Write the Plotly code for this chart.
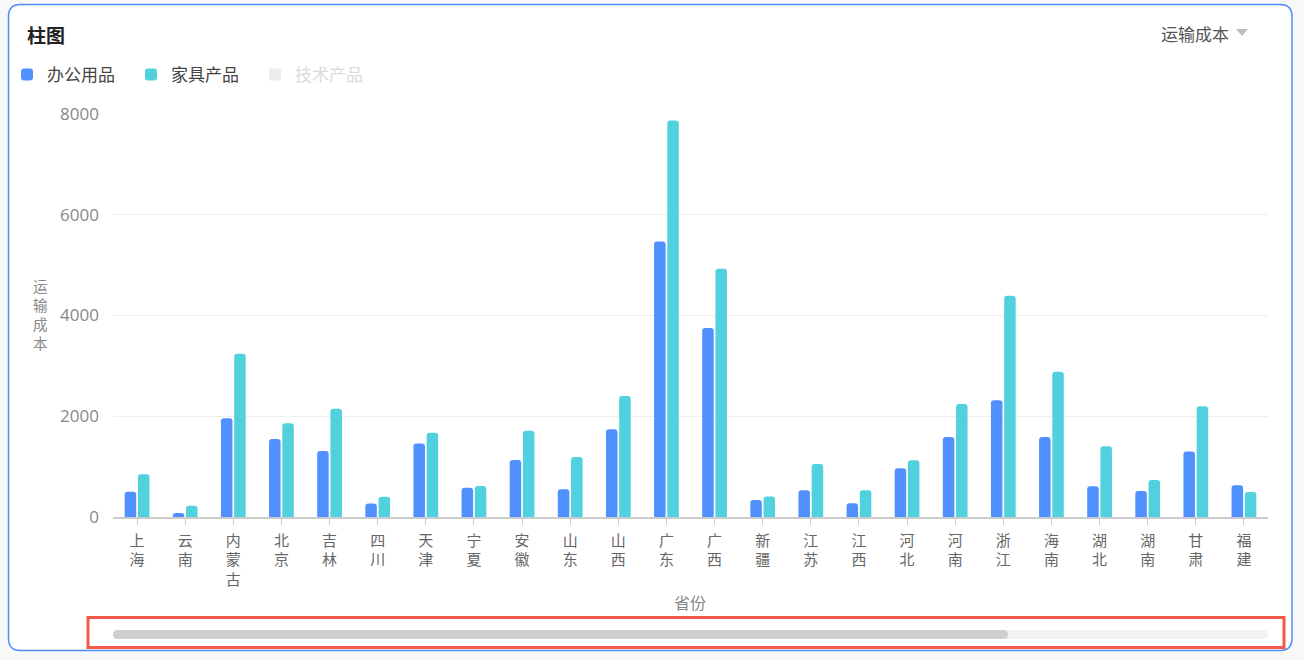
import plotly.graph_objects as go

# Provinces on the category axis and transport cost per product line
provinces = ["上海", "云南", "内蒙古", "北京", "吉林", "四川", "天津", "宁夏", "安徽", "山东",
             "山西", "广东", "广西", "新疆", "江苏", "江西", "河北", "河南", "浙江", "海南",
             "湖北", "湖南", "甘肃", "福建"]
office = [500, 80, 1960, 1550, 1310, 270, 1460, 580, 1130, 550,
          1740, 5470, 3750, 335, 530, 275, 970, 1590, 2320, 1590,
          610, 518, 1300, 630]
furniture = [850, 225, 3240, 1860, 2150, 400, 1670, 615, 1710, 1190,
             2400, 7870, 4930, 405, 1050, 530, 1125, 2245, 4390, 2883,
             1405, 735, 2200, 495]
series_names = ["办公用品", "家具产品", "技术产品"]
y_ticks = [0, 2000, 4000, 6000, 8000]

W, H = 1304, 660
CJK = "Noto Sans CJK SC, Noto Sans, sans-serif"


def px(x):
    return x / W


def py(y):
    return 1 - y / H


def rounded_rect(x0, y0, x1, y1, r):
    """SVG path (paper coords) for a rounded rectangle given in pixels."""
    pts = [
        ("M", (x0 + r, y0)), ("L", (x1 - r, y0)), ("Q", (x1, y0), (x1, y0 + r)),
        ("L", (x1, y1 - r)), ("Q", (x1, y1), (x1 - r, y1)),
        ("L", (x0 + r, y1)), ("Q", (x0, y1), (x0, y1 - r)),
        ("L", (x0, y0 + r)), ("Q", (x0, y0), (x0 + r, y0)),
    ]
    out = []
    for p in pts:
        cmd = p[0]
        coords = " ".join(f"{px(a):.6f},{py(b):.6f}" for a, b in p[1:])
        out.append(f"{cmd}{coords}")
    return " ".join(out) + " Z"


fig = go.Figure()
fig.add_trace(go.Bar(x=provinces, y=office, name=series_names[0],
                     marker=dict(color="#5090FF", cornerradius=3, line=dict(width=0))))
fig.add_trace(go.Bar(x=provinces, y=furniture, name=series_names[1],
                     marker=dict(color="#51D0DE", cornerradius=3, line=dict(width=0))))
fig.add_trace(go.Bar(x=provinces, y=[None] * len(provinces),
                     name='<span style="color:#b8b8b8">' + series_names[2] + "</span>",
                     visible="legendonly",
                     marker=dict(color="#dcdcdc", line=dict(width=0))))

shapes = [
    # card
    dict(type="path", xref="paper", yref="paper", layer="below",
         path=rounded_rect(8.5, 4.5, 1292, 650.5, 12),
         fillcolor="#ffffff", line=dict(color="#4D8DF5", width=1.5)),
    # scrollbar track and thumb
    dict(type="path", xref="paper", yref="paper", layer="above",
         path=rounded_rect(113, 630, 1268, 639, 4.5),
         fillcolor="#f2f2f2", line=dict(width=0)),
    dict(type="path", xref="paper", yref="paper", layer="above",
         path=rounded_rect(113, 630, 1008, 639, 4.5),
         fillcolor="#cfcfcf", line=dict(width=0)),
    # highlight frame around the scrollbar
    dict(type="rect", xref="paper", yref="paper", layer="above",
         x0=px(88), x1=px(1284), y0=py(617.5), y1=py(647.5),
         fillcolor="rgba(0,0,0,0)", line=dict(color="#F45A4A", width=3)),
    # dropdown caret
    dict(type="path", xref="paper", yref="paper", layer="above",
         path=f"M{px(1236)},{py(29)} L{px(1248)},{py(29)} L{px(1242)},{py(36)} Z",
         fillcolor="#bdbdbd", line=dict(width=0)),
]

annotations = [
    dict(text="<b>柱图</b>", x=px(25), y=py(34), xref="paper", yref="paper",
         xanchor="left", yanchor="middle", showarrow=False,
         font=dict(family=CJK, size=19, color="#222222")),
    dict(text="运输成本", x=px(1159), y=py(33), xref="paper", yref="paper",
         xanchor="left", yanchor="middle", showarrow=False,
         font=dict(family=CJK, size=17, color="#555555")),
    dict(text="运<br>输<br>成<br>本", x=px(40), y=py(314), xref="paper", yref="paper",
         xanchor="center", yanchor="middle", showarrow=False,
         font=dict(family=CJK, size=14.5, color="#888888")),
    dict(text="省份", x=px(690), y=py(602), xref="paper", yref="paper",
         xanchor="center", yanchor="middle", showarrow=False,
         font=dict(family=CJK, size=16, color="#888888")),
]

fig.update_layout(
    width=W, height=H, autosize=False,
    margin=dict(l=0, r=0, t=0, b=0, autoexpand=False),
    paper_bgcolor="#f8f8f9",
    plot_bgcolor="rgba(0,0,0,0)",
    barmode="group", bargap=0.45, bargroupgap=0.13,
    font=dict(family=CJK, color="#666666"),
    showlegend=True,
    legend=dict(orientation="h", x=px(7), y=py(75), xanchor="left", yanchor="middle",
                bgcolor="rgba(0,0,0,0)", font=dict(family=CJK, size=17, color="#444444"),
                itemclick=False, itemdoubleclick=False, traceorder="normal",
                entrywidth=79),
    xaxis=dict(domain=[px(113), px(1268)], type="category",
               tickmode="array", tickvals=provinces,
               ticktext=["<br>".join(p) for p in provinces],
               tickfont=dict(family=CJK, size=15, color="#666666"),
               ticks="outside", ticklen=6, tickcolor="#cccccc", tickwidth=1,
               ticklabelstandoff=3,
               showline=True, linecolor="#cccccc", linewidth=1.5,
               showgrid=False, zeroline=False, fixedrange=True),
    yaxis=dict(domain=[py(517), py(114)], range=[0, 8000],
               tickmode="array", tickvals=y_ticks, ticktext=[str(v) for v in y_ticks],
               tickfont=dict(family="Open Sans, sans-serif", size=17, color="#888888"),
               showgrid=True, gridcolor="#eeeeee", gridwidth=1,
               zeroline=False, showline=False, ticks="", ticklabelstandoff=13,
               fixedrange=True),
    shapes=shapes,
    annotations=annotations,
)

fig.write_html("out.html", config={"displayModeBar": False})
